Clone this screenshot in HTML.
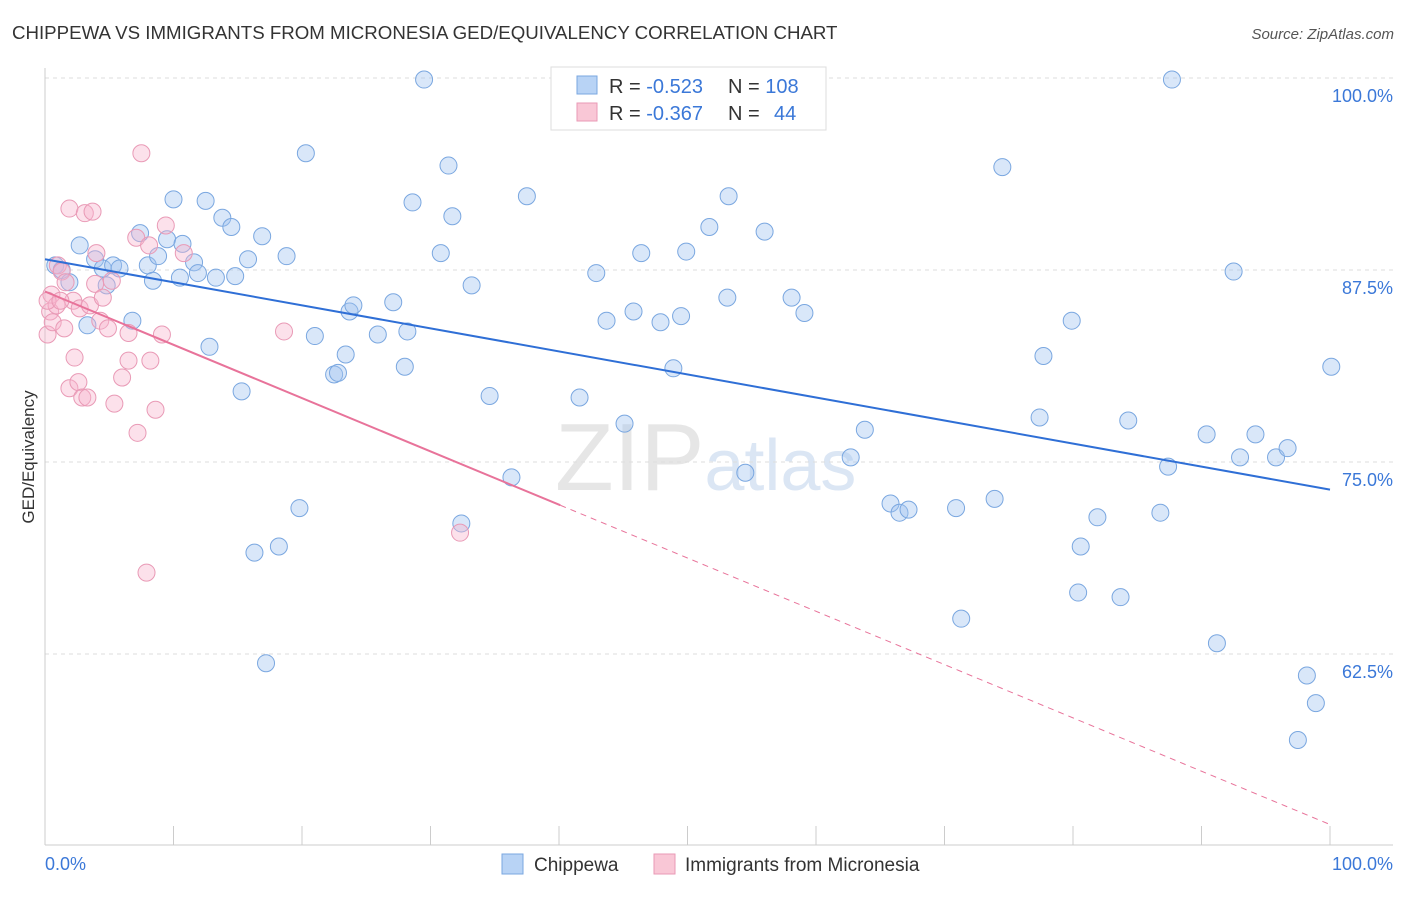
<!DOCTYPE html>
<html><head><meta charset="utf-8"><style>
body{margin:0;background:#fff;font-family:"Liberation Sans",sans-serif;}
svg text{font-family:"Liberation Sans",sans-serif;}
</style></head><body>
<svg id="chart" width="1406" height="892" xmlns="http://www.w3.org/2000/svg">
<text x="12" y="39" font-size="18.7" fill="#333">CHIPPEWA VS IMMIGRANTS FROM MICRONESIA GED/EQUIVALENCY CORRELATION CHART</text>
<text x="1394" y="39" font-size="15" fill="#555" text-anchor="end" font-style="italic">Source: ZipAtlas.com</text>
<text x="555" y="490" font-size="96" fill="#e6e6e6" font-family="Liberation Serif">ZIP<tspan fill="#dbe6f4" font-family="Liberation Sans" font-size="72">atlas</tspan></text>
<g id="grid"></g>
<g id="pts"></g>
<g id="lines"></g>
<text transform="translate(34,457) rotate(-90)" font-size="17" fill="#333" text-anchor="middle">GED/Equivalency</text>
<text x="45" y="870" font-size="18" fill="#3b78d8">0.0%</text>
<text x="1393" y="870" font-size="18" fill="#3b78d8" text-anchor="end">100.0%</text>
<g>
<rect x="551" y="67" width="275" height="63" fill="#fff" stroke="#ddd"/>
<rect x="577" y="76" width="20" height="18" fill="#b8d3f5" stroke="#7aa7e0"/>
<rect x="577" y="103" width="20" height="18" fill="#f9c7d6" stroke="#e99ab6"/>
<text x="609" y="93" font-size="20" fill="#333">R = <tspan fill="#3b78d8">-0.523</tspan><tspan x="728">N = </tspan><tspan fill="#3b78d8">108</tspan></text>
<text x="609" y="120" font-size="20" fill="#333">R = <tspan fill="#3b78d8">-0.367</tspan><tspan x="728">N = </tspan><tspan fill="#3b78d8" x="774">44</tspan></text>
</g>
<g>
<rect x="502" y="854" width="21" height="20" fill="#b8d3f5" stroke="#7aa7e0"/>
<text x="534" y="871" font-size="19" fill="#333">Chippewa</text>
<rect x="654" y="854" width="21" height="20" fill="#f9c7d6" stroke="#e99ab6"/>
<text x="685" y="871" font-size="19" fill="#333">Immigrants from Micronesia</text>
</g>
</svg>
<script>
const blueX=[0.8,1.3,1.9,2.7,3.3,3.9,4.5,4.8,5.3,5.8,6.8,7.4,8.0,8.4,8.8,9.5,10.0,10.5,10.7,11.6,11.9,12.5,12.8,13.3,13.8,14.5,14.8,15.3,15.8,16.3,16.9,17.2,18.2,18.8,19.8,20.3,21.0,22.5,22.8,23.4,23.7,24.0,25.9,27.1,28.0,28.2,28.6,29.5,30.8,31.4,31.7,32.4,33.2,34.6,36.3,37.5,41.6,42.9,43.7,45.1,45.8,46.4,47.9,48.9,49.5,49.9,51.7,53.1,53.2,54.5,56.0,58.1,59.1,62.7,63.8,65.8,66.5,67.2,70.9,71.3,73.9,74.5,77.4,77.7,79.9,80.4,80.6,81.9,83.7,84.3,86.8,87.4,87.7,90.4,91.2,92.5,93.0,94.2,95.8,96.7,97.5,98.2,98.9,100.1];
const blueY=[87.8,87.5,86.7,89.1,83.9,88.2,87.6,86.5,87.8,87.6,84.2,89.9,87.8,86.8,88.4,89.5,92.1,87.0,89.2,88.0,87.3,92.0,82.5,87.0,90.9,90.3,87.1,79.6,88.2,69.1,89.7,61.9,69.5,88.4,72.0,95.1,83.2,80.7,80.8,82.0,84.8,85.2,83.3,85.4,81.2,83.5,91.9,99.9,88.6,94.3,91.0,71.0,86.5,79.3,74.0,92.3,79.2,87.3,84.2,77.5,84.8,88.6,84.1,81.1,84.5,88.7,90.3,85.7,92.3,74.3,90.0,85.7,84.7,75.3,77.1,72.3,71.7,71.9,72.0,64.8,72.6,94.2,77.9,81.9,84.2,66.5,69.5,71.4,66.2,77.7,71.7,74.7,99.9,76.8,63.2,87.4,75.3,76.8,75.3,75.9,56.9,61.1,59.3,81.2];
const pinkX=[0.2,0.4,0.5,0.6,0.9,1.0,1.3,1.5,1.6,1.9,1.9,2.2,2.3,2.6,2.7,2.9,3.1,3.3,3.5,3.7,3.9,4.0,4.3,4.5,4.9,5.2,5.4,6.0,6.5,6.5,7.1,7.2,7.5,7.9,8.1,8.2,8.6,9.1,9.4,10.8,18.6,32.3,0.2,1.2];
const pinkY=[83.3,84.8,85.9,84.1,85.2,87.8,87.4,83.7,86.7,91.5,79.8,85.5,81.8,80.2,85.0,79.2,91.2,79.2,85.2,91.3,86.6,88.6,84.2,85.7,83.7,86.8,78.8,80.5,83.4,81.6,89.6,76.9,95.1,67.8,89.1,81.6,78.4,83.3,90.4,88.6,83.5,70.4,85.5,85.5];
const blueTrend=[88.2,73.2];
const pinkTrend=[86.1,51.4];
const pinkSolidEnd=40.1;
const yTicks=[100,87.5,75,62.5];
const yTickLabels=["100.0%","87.5%","75.0%","62.5%"];
const xTicks=[0,10,20,30,40,50,60,70,80,90,100];
const NS="http://www.w3.org/2000/svg";
const sx=v=>45+v*12.85;
const sy=v=>78+(100-v)*15.36;
function mk(tag,attrs,parent){const e=document.createElementNS(NS,tag);for(const k in attrs)e.setAttribute(k,attrs[k]);parent.appendChild(e);return e;}
const grid=document.getElementById('grid');
yTicks.forEach((t,i)=>{
  const l=mk('line',{x1:45,x2:1393,y1:sy(t),y2:sy(t),stroke:'#ddd','stroke-dasharray':'4,4'},grid);
  
  
  const tx=mk('text',{x:1393,y:sy(t)+24,'font-size':18,fill:'#3b78d8','text-anchor':'end'},grid);
  tx.textContent=yTickLabels[i];
  
  
});
const ax=mk('line',{x1:45,x2:45,y1:68,y2:845,stroke:'#ccc'},grid);


const bx=mk('line',{x1:45,x2:1393,y1:845,y2:845,stroke:'#ccc'},grid);


xTicks.forEach(t=>{
  const l=mk('line',{x1:sx(t),x2:sx(t),y1:826,y2:845,stroke:'#ccc'},grid);
  
  
});
const pts=document.getElementById('pts');
blueX.forEach((x,i)=>{
  const c=mk('circle',{cx:sx(x),cy:sy(blueY[i]),r:8.5,fill:'rgba(160,195,240,0.4)',stroke:'#7aa7e0','stroke-width':1},pts);
  
  
});
pinkX.forEach((x,i)=>{
  const c=mk('circle',{cx:sx(x),cy:sy(pinkY[i]),r:8.5,fill:'rgba(248,180,205,0.4)',stroke:'#e99ab6','stroke-width':1},pts);
  
  
});
const lines=document.getElementById('lines');
const bl=mk('line',{x1:sx(0),y1:sy(blueTrend[0]),x2:sx(100),y2:sy(blueTrend[1]),stroke:'#2f6fd6','stroke-width':2},lines);


const pm=pinkTrend[0]+(pinkTrend[1]-pinkTrend[0])*pinkSolidEnd/100;
const pl=mk('line',{x1:sx(0),y1:sy(pinkTrend[0]),x2:sx(pinkSolidEnd),y2:sy(pm),stroke:'#e8739a','stroke-width':2},lines);


const pd=mk('line',{x1:sx(pinkSolidEnd),y1:sy(pm),x2:sx(100),y2:sy(pinkTrend[1]),stroke:'#e8739a','stroke-width':1,'stroke-dasharray':'6,5'},lines);


</script>
</body></html>
